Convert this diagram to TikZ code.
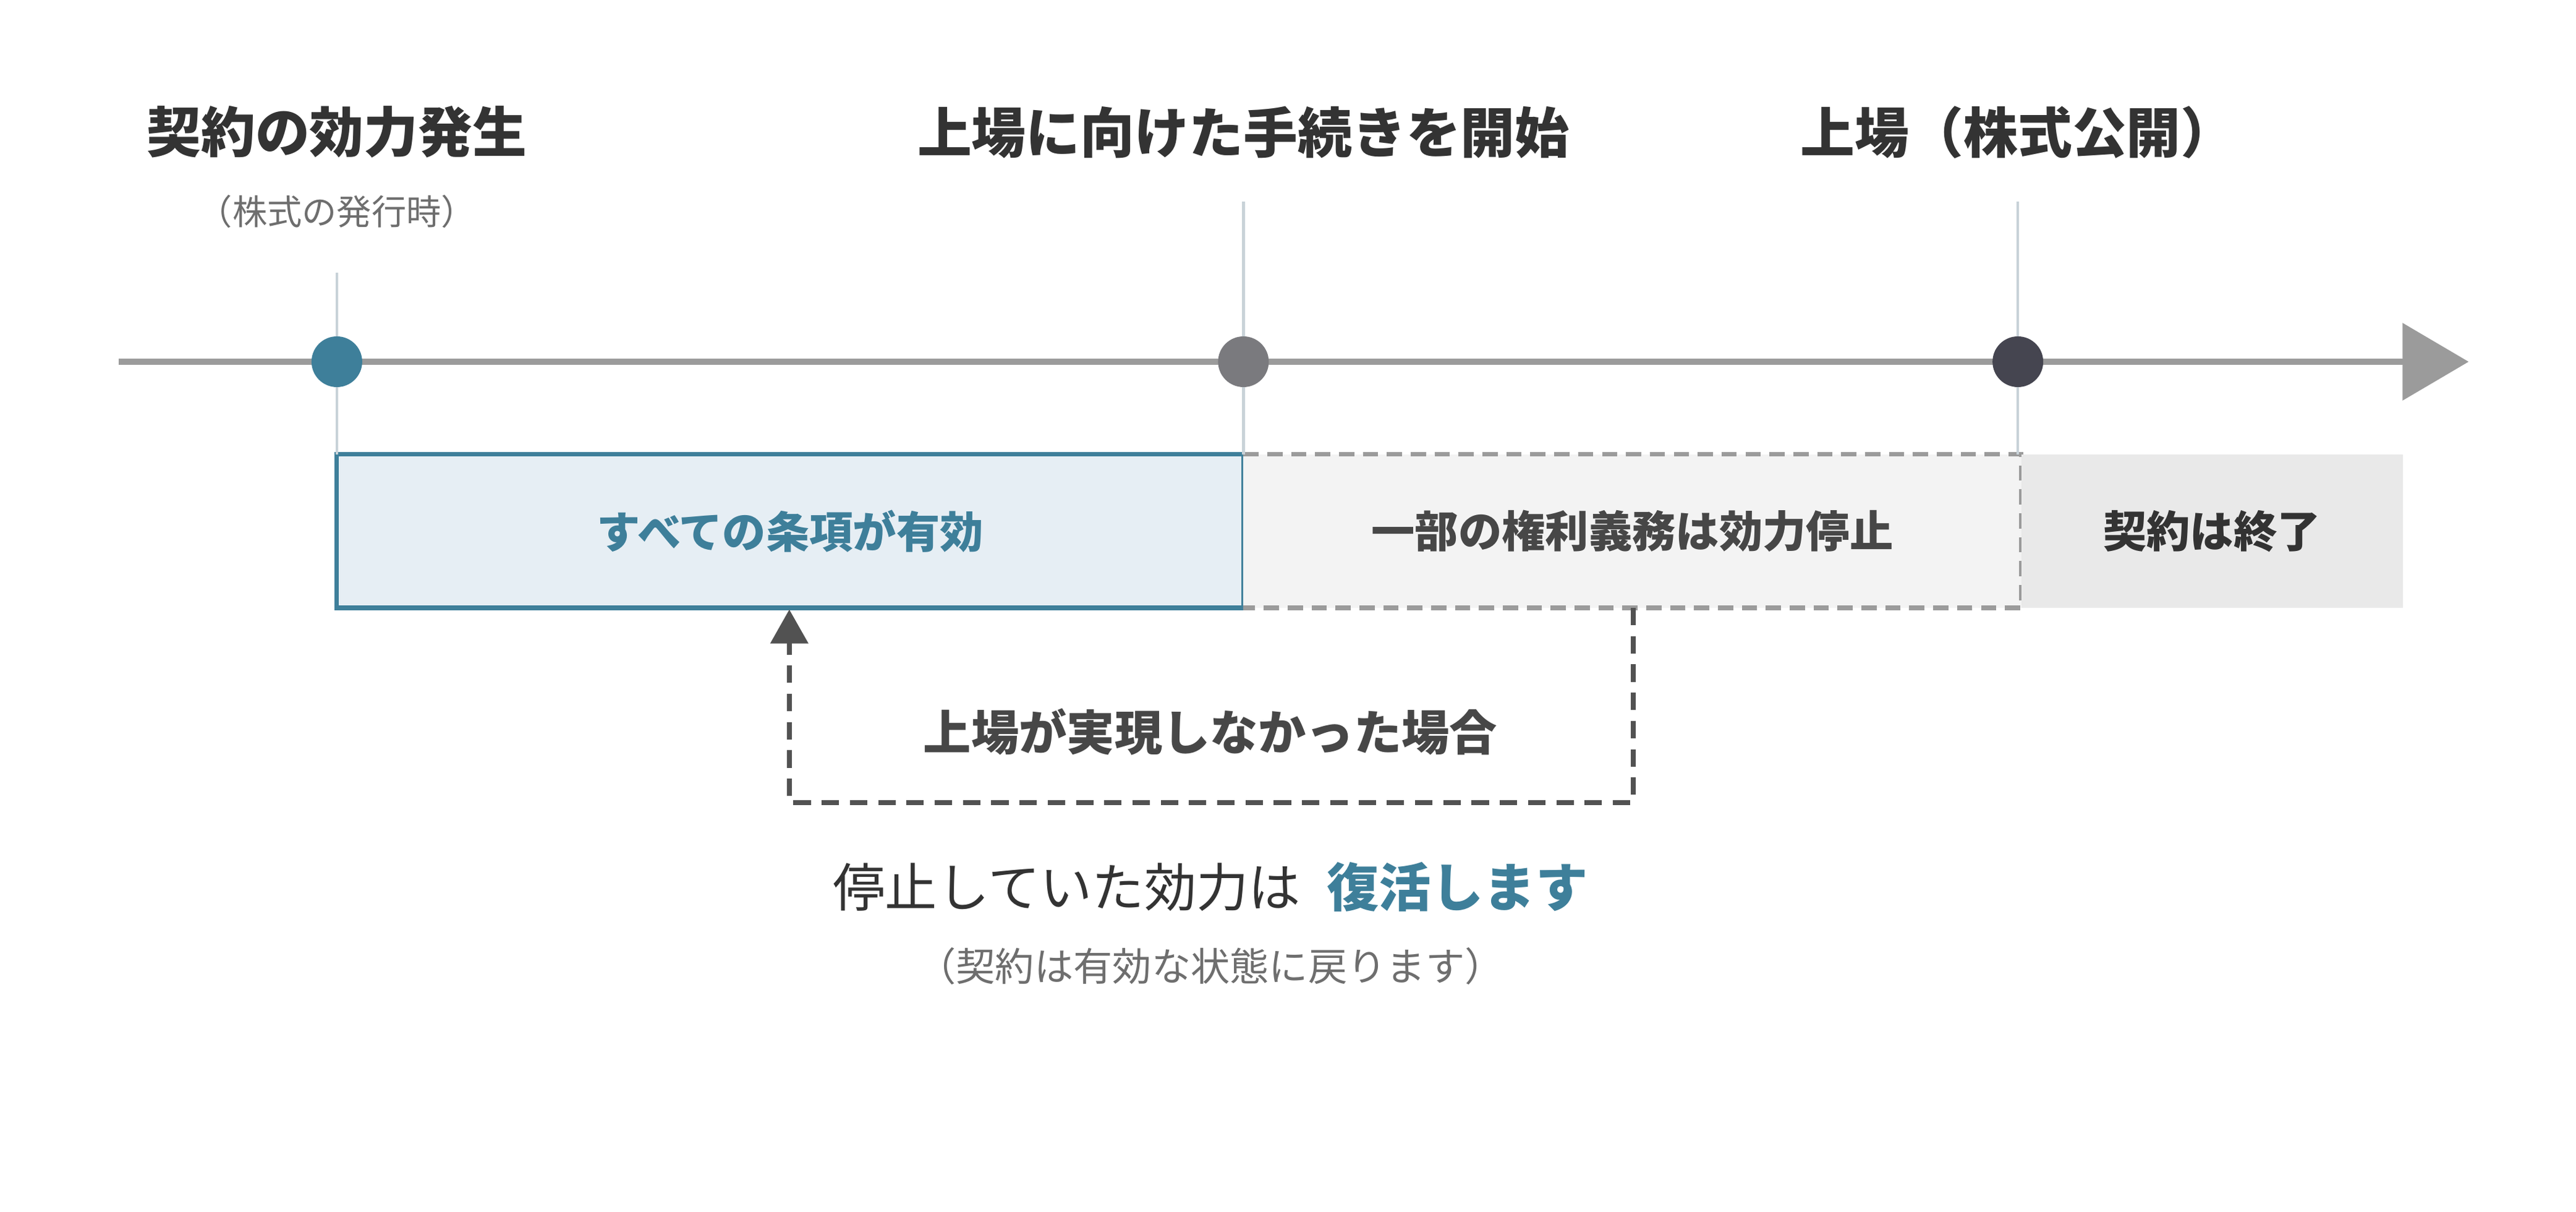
\documentclass[tikz,border=0pt]{standalone}
\usepackage{fontspec}
\newfontfamily\jp{Noto Sans CJK JP}
\usetikzlibrary{positioning,arrows.meta,calc}
\definecolor{tlTeal}{RGB}{62,127,154}
\definecolor{tlGray}{RGB}{155,155,155}
\definecolor{tlMid}{RGB}{122,122,126}
\definecolor{tlDark}{RGB}{69,69,80}
\definecolor{tlText}{RGB}{51,51,51}
\definecolor{tlSub}{RGB}{110,110,110}
\definecolor{tlTick}{RGB}{200,210,216}
\definecolor{tlLight}{RGB}{230,238,244}
\tikzset{
    base/.style={font=\jp, align=center, inner sep=0pt},
    title/.style={base, font=\jp\bfseries\fontsize{25}{30}\selectfont, text=tlText},
    sub/.style={base, font=\jp\fontsize{16}{20}\selectfont, text=tlSub},
    dot/.style={circle, inner sep=0pt, minimum size=0.82cm},
    tick/.style={tlTick, line width=1.2pt},
    phase/.style={base, font=\jp\bfseries\fontsize{20}{24}\selectfont},
    flow/.style={-{Triangle[length=0.55cm,width=0.6cm]}, tlText!85, line width=2.2pt, dash pattern=on 8pt off 5pt}
}
\begin{document}
\begin{tikzpicture}[x=0.02671cm, y=-0.02671cm]
  \useasboundingbox (0,0) rectangle (1560,733.4);
  % Phase boxes
  \node[draw=tlTeal, fill=tlLight, line width=2pt, minimum width=549*0.02671cm, minimum height=93*0.02671cm, phase, text=tlTeal] (all) at (478.5,321.5) {すべての条項が有効};
  \fill[tlGray!12] (753,275) rectangle (1224,368);
  \draw[tlGray, line width=2pt, dash pattern=on 7pt off 4pt] (753,275) -- (1224,275) -- (1224,368) -- (753,368);
  \node[phase, text=tlText!90] (part) at (988.5,321.5) {一部の権利義務は効力停止};
  \node[fill=tlGray!22, minimum width=231*0.02671cm, minimum height=93*0.02671cm, phase, text=tlText] (end) at (1339.5,321.5) {契約は終了};
  % Ticks
  \draw[tick] (204,165) -- (204,275);
  \draw[tick] (753,122) -- (753,275);
  \draw[tick] (1222,122) -- (1222,275);
  % Timeline
  \coordinate (t0) at (72,219);
  \coordinate (t1) at (1495,219);
  \draw[tlGray, line width=3pt, -{Triangle[length=1.07cm,width=1.23cm]}] (t0) -- (t1);
  \node[dot, fill=tlTeal] (d1) at (204,219) {};
  \node[dot, fill=tlMid] (d2) at (753,219) {};
  \node[dot, fill=tlDark] (d3) at (1222,219) {};
  % Milestones
  \node[title] (m1) at (204,80) {契約の効力発生};
  \node[sub] (m1s) at (204,128) {（株式の発行時）};
  \node[title] (m2) at (753,80) {上場に向けた手続きを開始};
  \node[title] (m3) at (1222,80) {上場（株式公開）};
  % Fallback
  \coordinate (f0) at (989,368);
  \coordinate (f1) at (478,369);
  \draw[flow] (f0) -- (989,486) -- (478,486) -- (f1);
  \node[phase, text=tlText!90, font=\jp\bfseries\fontsize{22}{26}\selectfont] (fail) at (733,443) {上場が実現しなかった場合};
  \node[base, font=\jp\fontsize{24}{28}\selectfont, text=tlText] (back) at (733,537) {停止していた効力は\hspace{0.5em}{\bfseries\color{tlTeal}復活します}};
  \node[sub, font=\jp\fontsize{18}{22}\selectfont] (note) at (733,585) {（契約は有効な状態に戻ります）};
\end{tikzpicture}
\end{document}
